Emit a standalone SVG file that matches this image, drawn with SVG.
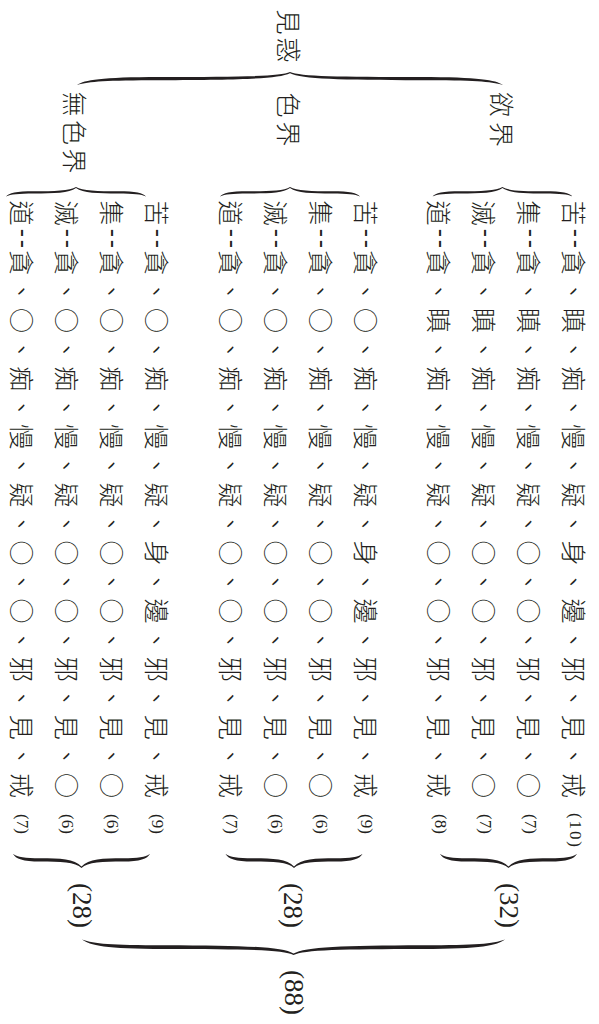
<svg xmlns="http://www.w3.org/2000/svg" width="599" height="1024" viewBox="0 0 599 1024">
<style>
.c{font-family:"Noto Sans CJK TC","Noto Sans CJK SC",sans-serif;font-size:25px;font-weight:300;fill:#231f20;dominant-baseline:central;letter-spacing:4.05px}
.d{font-family:"Liberation Sans",sans-serif;font-size:25px;fill:#231f20;dominant-baseline:central}
.n{font-family:"Liberation Serif",serif;font-size:17px;fill:#231f20;dominant-baseline:central}
.N{font-family:"Liberation Serif",serif;font-size:27px;fill:#231f20;dominant-baseline:central}
.b{fill:#231f20}
</style>
<defs>
<path id="bs" d="M-70 9.5C-67 6-60 4.4-42 4.3C-22 4.2-6 4 0 0C6 4 22 4.2 42 4.3C60 4.4 67 6 70 9.5C65 7.2 58 6.6 42 6.5C22 6.4 7 6.2 0 1C-7 6.2-22 6.4-42 6.5C-58 6.6-65 7.2-70 9.5Z"/>
<path id="bl" d="M-213 13C-205 8-190 5.3-130 5.1C-50 4.9-10 4.5 0 0C10 4.5 50 4.9 130 5.1C190 5.3 205 8 213 13C200 9.2 185 8.4 130 8.2C50 7.9 12 7 0 1.2C-12 7-50 7.9-130 8.2C-185 8.4-200 9.2-213 13Z"/>
</defs>
<rect width="599" height="1024" fill="#fff"/>

<g id="connectors" class="b">
<use href="#bl" transform="translate(290,72)"/>
<use href="#bs" transform="translate(76,187)"/>
<use href="#bs" transform="translate(290,187)"/>
<use href="#bs" transform="translate(502.5,187)"/>
<use href="#bs" transform="translate(81.5,868) scale(0.98,-1.5)"/>
<use href="#bs" transform="translate(294,868) scale(0.98,-1.5)"/>
<use href="#bs" transform="translate(508.5,868) scale(0.98,-1.5)"/>
<use href="#bl" transform="translate(293.5,955) scale(0.993,-1.2)"/>
</g>

<g id="jianhuo" transform="translate(290,0) rotate(90)"><text class="c" x="9.5 37.5">見惑</text></g>
<g id="yujie" transform="translate(502.5,0) rotate(90)"><text class="c" x="92 122">欲界</text></g>
<g id="sejie" transform="translate(290,0) rotate(90)"><text class="c" x="92.5 121.5">色界</text></g>
<g id="wusejie" transform="translate(76,0) rotate(90)"><text class="c" x="91.5 120 148.5">無色界</text></g>

<g id="yu-ku" transform="translate(575,0) rotate(90)"><text class="c"><tspan x="200.5">苦</tspan><tspan x="250">貪、瞋、痴、慢、疑、身、邊、邪、見、戒</tspan></text><text class="d" x="228.8 239.8" dy="-1.5">--</text><text class="n" x="813" textLength="34" lengthAdjust="spacing">(10)</text></g>
<g id="yu-ji" transform="translate(530,0) rotate(90)"><text class="c"><tspan x="200.5">集</tspan><tspan x="250">貪、瞋、痴、慢、疑、○、○、邪、見、○</tspan></text><text class="d" x="228.8 239.8" dy="-1.5">--</text><text class="n" x="814">(7)</text></g>
<g id="yu-mie" transform="translate(485,0) rotate(90)"><text class="c"><tspan x="200.5">滅</tspan><tspan x="250">貪、瞋、痴、慢、疑、○、○、邪、見、○</tspan></text><text class="d" x="228.8 239.8" dy="-1.5">--</text><text class="n" x="814">(7)</text></g>
<g id="yu-dao" transform="translate(440,0) rotate(90)"><text class="c"><tspan x="200.5">道</tspan><tspan x="250">貪、瞋、痴、慢、疑、○、○、邪、見、戒</tspan></text><text class="d" x="228.8 239.8" dy="-1.5">--</text><text class="n" x="814">(8)</text></g>

<g id="se-ku" transform="translate(366.5,0) rotate(90)"><text class="c"><tspan x="200.5">苦</tspan><tspan x="250">貪、○、痴、慢、疑、身、邊、邪、見、戒</tspan></text><text class="d" x="228.8 239.8" dy="-1.5">--</text><text class="n" x="814">(9)</text></g>
<g id="se-ji" transform="translate(321.5,0) rotate(90)"><text class="c"><tspan x="200.5">集</tspan><tspan x="250">貪、○、痴、慢、疑、○、○、邪、見、○</tspan></text><text class="d" x="228.8 239.8" dy="-1.5">--</text><text class="n" x="814">(6)</text></g>
<g id="se-mie" transform="translate(276.5,0) rotate(90)"><text class="c"><tspan x="200.5">滅</tspan><tspan x="250">貪、○、痴、慢、疑、○、○、邪、見、○</tspan></text><text class="d" x="228.8 239.8" dy="-1.5">--</text><text class="n" x="814">(6)</text></g>
<g id="se-dao" transform="translate(231.5,0) rotate(90)"><text class="c"><tspan x="200.5">道</tspan><tspan x="250">貪、○、痴、慢、疑、○、○、邪、見、戒</tspan></text><text class="d" x="228.8 239.8" dy="-1.5">--</text><text class="n" x="814">(7)</text></g>

<g id="wu-ku" transform="translate(157.5,0) rotate(90)"><text class="c"><tspan x="200.5">苦</tspan><tspan x="250">貪、○、痴、慢、疑、身、邊、邪、見、戒</tspan></text><text class="d" x="228.8 239.8" dy="-1.5">--</text><text class="n" x="814">(9)</text></g>
<g id="wu-ji" transform="translate(112.5,0) rotate(90)"><text class="c"><tspan x="200.5">集</tspan><tspan x="250">貪、○、痴、慢、疑、○、○、邪、見、○</tspan></text><text class="d" x="228.8 239.8" dy="-1.5">--</text><text class="n" x="814">(6)</text></g>
<g id="wu-mie" transform="translate(67.5,0) rotate(90)"><text class="c"><tspan x="200.5">滅</tspan><tspan x="250">貪、○、痴、慢、疑、○、○、邪、見、○</tspan></text><text class="d" x="228.8 239.8" dy="-1.5">--</text><text class="n" x="814">(6)</text></g>
<g id="wu-dao" transform="translate(22.5,0) rotate(90)"><text class="c"><tspan x="200.5">道</tspan><tspan x="250">貪、○、痴、慢、疑、○、○、邪、見、戒</tspan></text><text class="d" x="228.8 239.8" dy="-1.5">--</text><text class="n" x="814">(7)</text></g>

<g id="yu-total" transform="translate(508.5,0) rotate(90)"><text class="N" x="883">(32)</text></g>
<g id="se-total" transform="translate(293,0) rotate(90)"><text class="N" x="883">(28)</text></g>
<g id="wu-total" transform="translate(82,0) rotate(90)"><text class="N" x="883">(28)</text></g>
<g id="total" transform="translate(293.5,0) rotate(90)"><text class="N" x="970">(88)</text></g>
</svg>
